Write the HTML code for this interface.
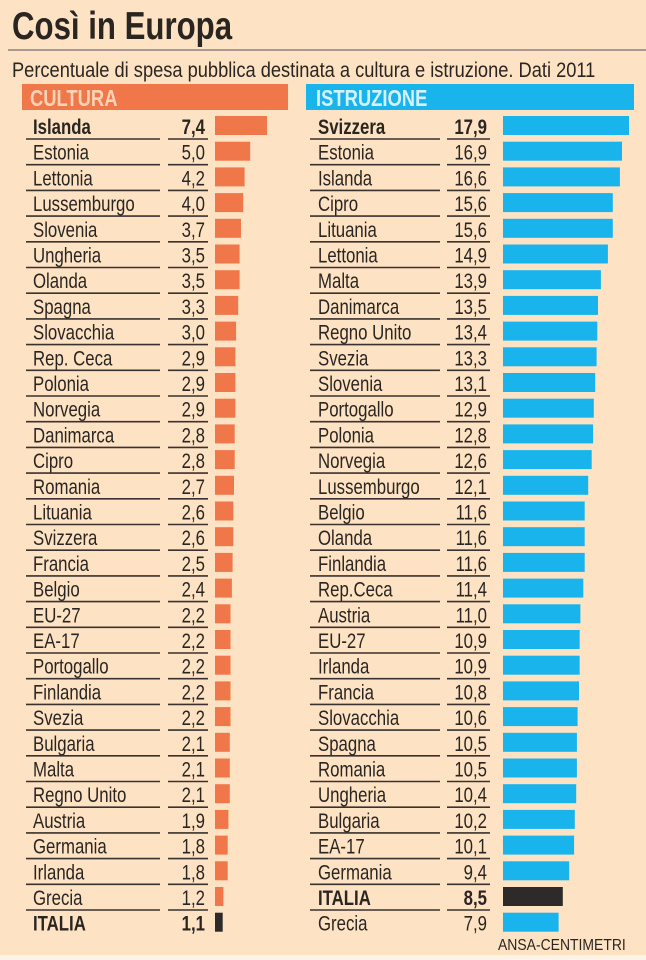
<!DOCTYPE html>
<html><head><meta charset="utf-8"><style>
html,body{margin:0;padding:0;background:#fde3c3;}
svg{display:block}
text{font-family:"Liberation Sans",sans-serif;fill:#2b2522}
.n{font-size:21px}
.b{font-weight:bold}
</style></head><body>
<svg width="646" height="960" viewBox="0 0 646 960">
<rect x="0" y="0" width="646" height="960" fill="#fde3c3"/>
<rect x="0" y="955" width="646" height="5" fill="#fff4e6"/>
<g transform="translate(12,39) scale(0.8,1)"><text x="0" y="0" style="font-size:39px;font-weight:bold">Così in Europa</text></g>
<line x1="8" y1="50" x2="646" y2="50" stroke="#8a8380" stroke-width="1.5"/>
<g transform="translate(12,77) scale(0.87,1)"><text x="0" y="0" style="font-size:21px">Percentuale di spesa pubblica destinata a cultura e istruzione. Dati 2011</text></g>
<rect x="22" y="84" width="266" height="26" fill="#f0774a"/>
<rect x="306" y="84" width="328" height="26" fill="#1ab4ec"/>
<g transform="translate(30,106) scale(0.8,1)"><text x="0" y="0" style="font-size:23px;font-weight:bold;fill:#fbd3b5">CULTURA</text></g>
<g transform="translate(316,106) scale(0.8,1)"><text x="0" y="0" style="font-size:23px;font-weight:bold;fill:#d6f1fb">ISTRUZIONE</text></g>

<g stroke="#3a3230" stroke-width="1.6">
<path d="M26 139H160M168 139H208M310 139H440M447 139H490
M26 164.7H160M168 164.7H208M310 164.7H440M447 164.7H490
M26 190.4H160M168 190.4H208M310 190.4H440M447 190.4H490
M26 216.1H160M168 216.1H208M310 216.1H440M447 216.1H490
M26 241.8H160M168 241.8H208M310 241.8H440M447 241.8H490
M26 267.5H160M168 267.5H208M310 267.5H440M447 267.5H490
M26 293.2H160M168 293.2H208M310 293.2H440M447 293.2H490
M26 318.9H160M168 318.9H208M310 318.9H440M447 318.9H490
M26 344.6H160M168 344.6H208M310 344.6H440M447 344.6H490
M26 370.3H160M168 370.3H208M310 370.3H440M447 370.3H490
M26 396H160M168 396H208M310 396H440M447 396H490
M26 421.7H160M168 421.7H208M310 421.7H440M447 421.7H490
M26 447.4H160M168 447.4H208M310 447.4H440M447 447.4H490
M26 473.1H160M168 473.1H208M310 473.1H440M447 473.1H490
M26 498.8H160M168 498.8H208M310 498.8H440M447 498.8H490
M26 524.5H160M168 524.5H208M310 524.5H440M447 524.5H490
M26 550.2H160M168 550.2H208M310 550.2H440M447 550.2H490
M26 575.9H160M168 575.9H208M310 575.9H440M447 575.9H490
M26 601.6H160M168 601.6H208M310 601.6H440M447 601.6H490
M26 627.3H160M168 627.3H208M310 627.3H440M447 627.3H490
M26 653H160M168 653H208M310 653H440M447 653H490
M26 678.7H160M168 678.7H208M310 678.7H440M447 678.7H490
M26 704.4H160M168 704.4H208M310 704.4H440M447 704.4H490
M26 730.1H160M168 730.1H208M310 730.1H440M447 730.1H490
M26 755.8H160M168 755.8H208M310 755.8H440M447 755.8H490
M26 781.5H160M168 781.5H208M310 781.5H440M447 781.5H490
M26 807.2H160M168 807.2H208M310 807.2H440M447 807.2H490
M26 832.9H160M168 832.9H208M310 832.9H440M447 832.9H490
M26 858.6H160M168 858.6H208M310 858.6H440M447 858.6H490
M26 884.3H160M168 884.3H208M310 884.3H440M447 884.3H490
M26 910H160M168 910H208M310 910H440M447 910H490"/>
</g>

<g fill="#f0774a">
<rect x="215" y="116" width="52.1" height="19"/>
<rect x="215" y="141.7" width="35.2" height="19"/>
<rect x="215" y="167.4" width="29.6" height="19"/>
<rect x="215" y="193.1" width="28.2" height="19"/>
<rect x="215" y="218.8" width="26" height="19"/>
<rect x="215" y="244.5" width="24.6" height="19"/>
<rect x="215" y="270.2" width="24.6" height="19"/>
<rect x="215" y="295.9" width="23.2" height="19"/>
<rect x="215" y="321.6" width="21.1" height="19"/>
<rect x="215" y="347.3" width="20.4" height="19"/>
<rect x="215" y="373" width="20.4" height="19"/>
<rect x="215" y="398.7" width="20.4" height="19"/>
<rect x="215" y="424.4" width="19.7" height="19"/>
<rect x="215" y="450.1" width="19.7" height="19"/>
<rect x="215" y="475.8" width="19" height="19"/>
<rect x="215" y="501.5" width="18.3" height="19"/>
<rect x="215" y="527.2" width="18.3" height="19"/>
<rect x="215" y="552.9" width="17.6" height="19"/>
<rect x="215" y="578.6" width="16.9" height="19"/>
<rect x="215" y="604.3" width="15.5" height="19"/>
<rect x="215" y="630" width="15.5" height="19"/>
<rect x="215" y="655.7" width="15.5" height="19"/>
<rect x="215" y="681.4" width="15.5" height="19"/>
<rect x="215" y="707.1" width="15.5" height="19"/>
<rect x="215" y="732.8" width="14.8" height="19"/>
<rect x="215" y="758.5" width="14.8" height="19"/>
<rect x="215" y="784.2" width="14.8" height="19"/>
<rect x="215" y="809.9" width="13.4" height="19"/>
<rect x="215" y="835.6" width="12.7" height="19"/>
<rect x="215" y="861.3" width="12.7" height="19"/>
<rect x="215" y="887" width="8.4" height="19"/>
<rect x="215" y="912.7" width="7.7" height="19" fill="#2e2a2a"/>
</g>
<g fill="#1ab4ec">
<rect x="503" y="116" width="126" height="19"/>
<rect x="503" y="141.7" width="119" height="19"/>
<rect x="503" y="167.4" width="116.9" height="19"/>
<rect x="503" y="193.1" width="109.8" height="19"/>
<rect x="503" y="218.8" width="109.8" height="19"/>
<rect x="503" y="244.5" width="104.9" height="19"/>
<rect x="503" y="270.2" width="97.9" height="19"/>
<rect x="503" y="295.9" width="95" height="19"/>
<rect x="503" y="321.6" width="94.3" height="19"/>
<rect x="503" y="347.3" width="93.6" height="19"/>
<rect x="503" y="373" width="92.2" height="19"/>
<rect x="503" y="398.7" width="90.8" height="19"/>
<rect x="503" y="424.4" width="90.1" height="19"/>
<rect x="503" y="450.1" width="88.7" height="19"/>
<rect x="503" y="475.8" width="85.2" height="19"/>
<rect x="503" y="501.5" width="81.7" height="19"/>
<rect x="503" y="527.2" width="81.7" height="19"/>
<rect x="503" y="552.9" width="81.7" height="19"/>
<rect x="503" y="578.6" width="80.3" height="19"/>
<rect x="503" y="604.3" width="77.4" height="19"/>
<rect x="503" y="630" width="76.7" height="19"/>
<rect x="503" y="655.7" width="76.7" height="19"/>
<rect x="503" y="681.4" width="76" height="19"/>
<rect x="503" y="707.1" width="74.6" height="19"/>
<rect x="503" y="732.8" width="73.9" height="19"/>
<rect x="503" y="758.5" width="73.9" height="19"/>
<rect x="503" y="784.2" width="73.2" height="19"/>
<rect x="503" y="809.9" width="71.8" height="19"/>
<rect x="503" y="835.6" width="71.1" height="19"/>
<rect x="503" y="861.3" width="66.2" height="19"/>
<rect x="503" y="887" width="59.8" height="19" fill="#2e2a2a"/>
<rect x="503" y="912.7" width="55.6" height="19"/>
</g>

<g transform="translate(33,0) scale(0.8,1)" class="n">
<text y="134" class="b">Islanda</text>
<text y="159.7">Estonia</text>
<text y="185.4">Lettonia</text>
<text y="211.1">Lussemburgo</text>
<text y="236.8">Slovenia</text>
<text y="262.5">Ungheria</text>
<text y="288.2">Olanda</text>
<text y="313.9">Spagna</text>
<text y="339.6">Slovacchia</text>
<text y="365.3">Rep. Ceca</text>
<text y="391">Polonia</text>
<text y="416.7">Norvegia</text>
<text y="442.4">Danimarca</text>
<text y="468.1">Cipro</text>
<text y="493.8">Romania</text>
<text y="519.5">Lituania</text>
<text y="545.2">Svizzera</text>
<text y="570.9">Francia</text>
<text y="596.6">Belgio</text>
<text y="622.3">EU-27</text>
<text y="648">EA-17</text>
<text y="673.7">Portogallo</text>
<text y="699.4">Finlandia</text>
<text y="725.1">Svezia</text>
<text y="750.8">Bulgaria</text>
<text y="776.5">Malta</text>
<text y="802.2">Regno Unito</text>
<text y="827.9">Austria</text>
<text y="853.6">Germania</text>
<text y="879.3">Irlanda</text>
<text y="905">Grecia</text>
<text y="930.7" class="b">ITALIA</text>
</g>
<g transform="translate(205,0) scale(0.8,1)" class="n" text-anchor="end">
<text y="134" class="b">7,4</text>
<text y="159.7">5,0</text>
<text y="185.4">4,2</text>
<text y="211.1">4,0</text>
<text y="236.8">3,7</text>
<text y="262.5">3,5</text>
<text y="288.2">3,5</text>
<text y="313.9">3,3</text>
<text y="339.6">3,0</text>
<text y="365.3">2,9</text>
<text y="391">2,9</text>
<text y="416.7">2,9</text>
<text y="442.4">2,8</text>
<text y="468.1">2,8</text>
<text y="493.8">2,7</text>
<text y="519.5">2,6</text>
<text y="545.2">2,6</text>
<text y="570.9">2,5</text>
<text y="596.6">2,4</text>
<text y="622.3">2,2</text>
<text y="648">2,2</text>
<text y="673.7">2,2</text>
<text y="699.4">2,2</text>
<text y="725.1">2,2</text>
<text y="750.8">2,1</text>
<text y="776.5">2,1</text>
<text y="802.2">2,1</text>
<text y="827.9">1,9</text>
<text y="853.6">1,8</text>
<text y="879.3">1,8</text>
<text y="905">1,2</text>
<text y="930.7" class="b">1,1</text>
</g>
<g transform="translate(318,0) scale(0.8,1)" class="n">
<text y="134" class="b">Svizzera</text>
<text y="159.7">Estonia</text>
<text y="185.4">Islanda</text>
<text y="211.1">Cipro</text>
<text y="236.8">Lituania</text>
<text y="262.5">Lettonia</text>
<text y="288.2">Malta</text>
<text y="313.9">Danimarca</text>
<text y="339.6">Regno Unito</text>
<text y="365.3">Svezia</text>
<text y="391">Slovenia</text>
<text y="416.7">Portogallo</text>
<text y="442.4">Polonia</text>
<text y="468.1">Norvegia</text>
<text y="493.8">Lussemburgo</text>
<text y="519.5">Belgio</text>
<text y="545.2">Olanda</text>
<text y="570.9">Finlandia</text>
<text y="596.6">Rep.Ceca</text>
<text y="622.3">Austria</text>
<text y="648">EU-27</text>
<text y="673.7">Irlanda</text>
<text y="699.4">Francia</text>
<text y="725.1">Slovacchia</text>
<text y="750.8">Spagna</text>
<text y="776.5">Romania</text>
<text y="802.2">Ungheria</text>
<text y="827.9">Bulgaria</text>
<text y="853.6">EA-17</text>
<text y="879.3">Germania</text>
<text y="905" class="b">ITALIA</text>
<text y="930.7">Grecia</text>
</g>
<g transform="translate(487,0) scale(0.8,1)" class="n" text-anchor="end">
<text y="134" class="b">17,9</text>
<text y="159.7">16,9</text>
<text y="185.4">16,6</text>
<text y="211.1">15,6</text>
<text y="236.8">15,6</text>
<text y="262.5">14,9</text>
<text y="288.2">13,9</text>
<text y="313.9">13,5</text>
<text y="339.6">13,4</text>
<text y="365.3">13,3</text>
<text y="391">13,1</text>
<text y="416.7">12,9</text>
<text y="442.4">12,8</text>
<text y="468.1">12,6</text>
<text y="493.8">12,1</text>
<text y="519.5">11,6</text>
<text y="545.2">11,6</text>
<text y="570.9">11,6</text>
<text y="596.6">11,4</text>
<text y="622.3">11,0</text>
<text y="648">10,9</text>
<text y="673.7">10,9</text>
<text y="699.4">10,8</text>
<text y="725.1">10,6</text>
<text y="750.8">10,5</text>
<text y="776.5">10,5</text>
<text y="802.2">10,4</text>
<text y="827.9">10,2</text>
<text y="853.6">10,1</text>
<text y="879.3">9,4</text>
<text y="905" class="b">8,5</text>
<text y="930.7">7,9</text>
</g>
<g transform="translate(498,950) scale(0.9,1)"><text x="0" y="0" style="font-size:15.5px">ANSA-CENTIMETRI</text></g>
</svg>
</body></html>
